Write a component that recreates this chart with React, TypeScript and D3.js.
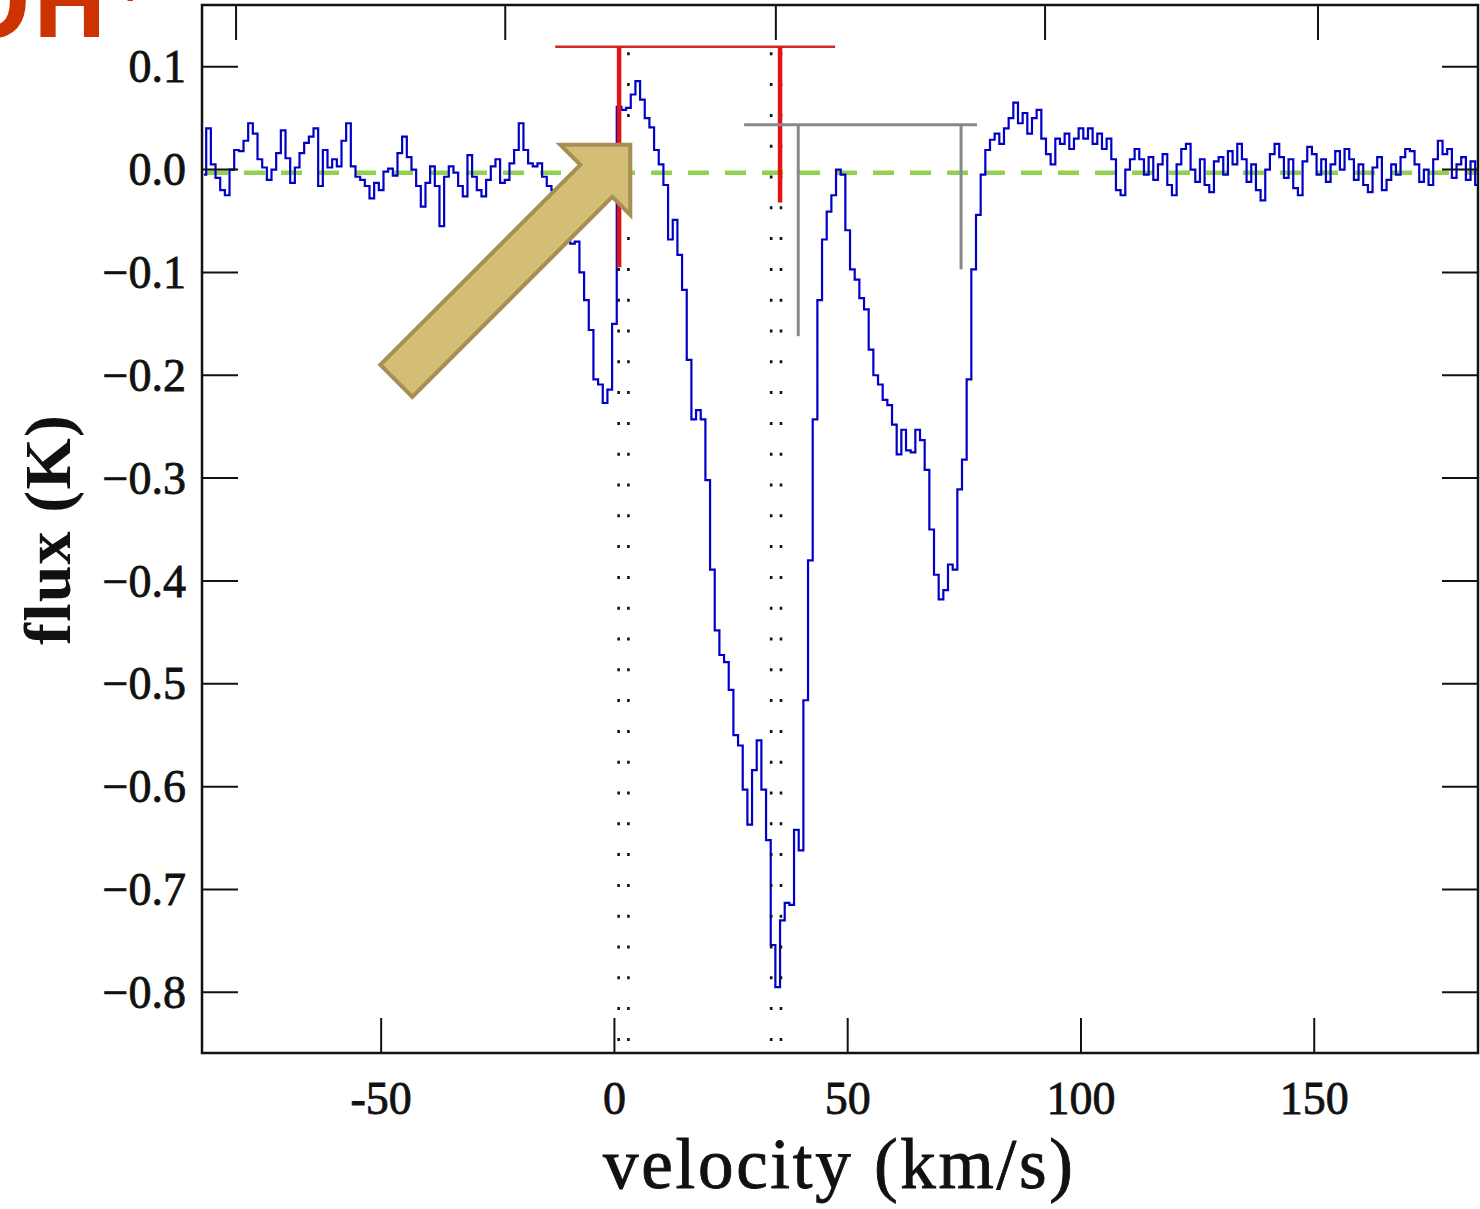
import React from 'react';
import * as d3 from 'd3';

const W = 1480;
const H = 1209;
const plot = { left: 202, right: 1478, top: 5, bottom: 1053 };

// spectrum channels (km/s), 1 km/s grid
const channelStart = -88;
const channelWidth = 1;
const flux: number[] = [
  // -88 .. -14
  -0.005, 0.04, 0.005, -0.008, -0.02, -0.025, 0.0, 0.019, 0.018, 0.028,
  0.045, 0.035, 0.01, 0.002, -0.01, 0.0, 0.016, 0.038, 0.011, -0.013,
  0.002, 0.016, 0.026, 0.032, 0.04, -0.016, 0.019, 0.002, 0.01, 0.003,
  0.028, 0.045, 0.003, -0.007, -0.01, -0.016, -0.028, -0.013, -0.02, -0.002,
  0.001, -0.006, 0.016, 0.032, 0.012, 0.0, -0.016, -0.036, -0.013, 0.003,
  -0.016, -0.055, -0.007, 0.003, -0.003, -0.016, -0.026, 0.014, -0.007, -0.02,
  -0.026, -0.01, 0.003, 0.01, -0.013, -0.01, 0.006, 0.019, 0.045, 0.019,
  0.006, 0.003, 0.006, -0.007, -0.016,
  // -13 .. 81
  -0.02, -0.035, -0.058, -0.068, -0.072, -0.07, -0.1, -0.127, -0.156, -0.204,
  -0.209, -0.227, -0.214, -0.15, 0.061, 0.058, 0.06, 0.073, 0.086, 0.068,
  0.05, 0.041, 0.019, 0.005, -0.015, -0.068, -0.049, -0.083, -0.117, -0.185,
  -0.243, -0.234, -0.243, -0.302, -0.389, -0.448, -0.472, -0.479, -0.506, -0.55,
  -0.56, -0.603, -0.637, -0.584, -0.555, -0.603, -0.652, -0.754, -0.795, -0.73,
  -0.713, -0.715, -0.642, -0.662, -0.516, -0.38, -0.243, -0.127, -0.068, -0.041,
  -0.025, 0.0, -0.005, -0.059, -0.097, -0.107, -0.125, -0.136, -0.175, -0.2,
  -0.209, -0.224, -0.229, -0.248, -0.277, -0.253, -0.273, -0.275, -0.253, -0.263,
  -0.292, -0.35, -0.394, -0.418, -0.409, -0.384, -0.389, -0.311, -0.282, -0.204,
  -0.097, -0.044, -0.005, 0.019, 0.029,
  // 82 .. 185
  0.035, 0.025, 0.04, 0.05, 0.065, 0.045, 0.055, 0.035, 0.05, 0.058,
  0.03, 0.015, 0.005, 0.03, 0.025, 0.035, 0.02, 0.03, 0.04, 0.03,
  0.04, 0.025, 0.035, 0.02, 0.03, 0.01, -0.02, -0.025, 0.0, 0.01,
  0.02, 0.01, -0.005, 0.012, -0.01, 0.005, 0.015, -0.015, -0.025, 0.005,
  0.02, 0.025, 0.0, -0.012, 0.01, -0.015, -0.022, 0.008, 0.012, -0.005,
  0.018, 0.005, 0.025, 0.01, -0.012, 0.005, -0.02, -0.03, 0.0, 0.015,
  0.025, 0.012, -0.008, 0.01, -0.018, -0.025, 0.008, 0.022, 0.015, -0.005,
  0.01, -0.012, 0.005, 0.018, 0.0, 0.02, 0.01, -0.01, 0.005, -0.015,
  -0.022, 0.002, 0.012, -0.02, -0.01, 0.005, -0.005, 0.012, 0.02, 0.018,
  0.005, -0.012, 0.0, -0.015, 0.01, 0.028, 0.015, 0.02, -0.008, 0.005,
  0.012, -0.01, 0.008, -0.015,
];

const xDomain = [-88.4, 185.1];
const yDomain = [-0.859, 0.16];
const xTicks = [-50, 0, 50, 100, 150];
const xTickLabels = ['-50', '0', '50', '100', '150'];
const yTicks = [0.1, 0.0, -0.1, -0.2, -0.3, -0.4, -0.5, -0.6, -0.7, -0.8];
const yTickLabels = ['0.1', '0.0', '\u22120.1', '\u22120.2', '\u22120.3', '\u22120.4', '\u22120.5', '\u22120.6', '\u22120.7', '\u22120.8'];
const topTicks = [-81.1, -23.4, 34.6, 92.3, 150.8];

const baselineFlux = -0.003;
const redBar = { v0: -12.7, v1: 47.3, f: 0.1195 };
const redDrops = [ { v: 1.0, f: -0.095 }, { v: 35.5, f: -0.032 } ];
const grayBar = { v0: 27.8, v1: 77.7, f: 0.0436 };
const grayDrops = [ { v: 39.4, f: -0.162 }, { v: 74.3, f: -0.097 } ];
const dottedVelocities = [0.9, 3.0, 33.6, 35.7];
const dottedTop = 0.114;
const arrowTip = { v: 3.4, f: 0.024 };

export default function App() {
  const x = d3.scaleLinear().domain(xDomain).range([plot.left, plot.right]);
  const y = d3.scaleLinear().domain(yDomain).range([plot.bottom, plot.top]);

  const pts = flux.map((f, i) => [channelStart + i * channelWidth, f] as [number, number]);
  const line = d3.line<[number, number]>()
    .x(d => x(d[0]))
    .y(d => y(d[1]))
    .curve(d3.curveStep);

  const tx = x(arrowTip.v);
  const ty = y(arrowTip.f);
  const arrowOffsets = [[0, 0], [-70, 0], [-50, 20], [-250, 220], [-218, 252], [-18, 52], [0, 70]];
  const arrowPts = arrowOffsets.map(([dx, dy]) => `${tx + dx},${ty + dy}`).join(' ');

  const serif = '"Liberation Serif", "Times New Roman", serif';

  return (
    <svg width={W} height={H} style={{ position: 'absolute', left: 0, top: 0, background: '#fff' }}>
      <defs>
        <clipPath id="pc">
          <rect x={plot.left} y={plot.top} width={plot.right - plot.left} height={plot.bottom - plot.top} />
        </clipPath>
      </defs>

      {/* OH label (partially cropped, as in the reference) */}
      <text x={-48} y={37} fontFamily='"Open Sans", sans-serif' fontWeight={700} fontSize={100} fill="#cc3300">
        OH<tspan fontSize={50} dx={8} dy={-30}>+</tspan>
      </text>

      <g clipPath="url(#pc)">
        <line x1={plot.left} x2={plot.right} y1={y(baselineFlux)} y2={y(baselineFlux)}
          stroke="#92d050" strokeWidth={4.5} strokeDasharray="21 16" strokeDashoffset={-5} />
        <path d={line(pts) || ''} fill="none" stroke="#0000c8" strokeWidth={2.2} />
        {dottedVelocities.map((v, i) => (
          <line key={'d' + i} x1={x(v)} x2={x(v)} y1={y(dottedTop)} y2={plot.bottom}
            stroke="#111" strokeWidth={2.6} strokeDasharray="3 27.8" />
        ))}
        <line x1={x(redBar.v0)} x2={x(redBar.v1)} y1={y(redBar.f)} y2={y(redBar.f)} stroke="#cf2a2a" strokeWidth={2.5} />
        {redDrops.map((d, i) => (
          <line key={'r' + i} x1={x(d.v)} x2={x(d.v)} y1={y(redBar.f)} y2={y(d.f)} stroke="#e01515" strokeWidth={4.5} />
        ))}
        <line x1={x(grayBar.v0)} x2={x(grayBar.v1)} y1={y(grayBar.f)} y2={y(grayBar.f)} stroke="#888" strokeWidth={3} />
        {grayDrops.map((d, i) => (
          <line key={'g' + i} x1={x(d.v)} x2={x(d.v)} y1={y(grayBar.f)} y2={y(d.f)} stroke="#888" strokeWidth={3} />
        ))}
      </g>

      <g stroke="#111" strokeWidth={2}>
        {yTicks.map((t, i) => (
          <g key={'yt' + i}>
            <line x1={plot.left} x2={plot.left + 36} y1={y(t)} y2={y(t)} />
            <line x1={plot.right - 36} x2={plot.right} y1={y(t)} y2={y(t)} />
          </g>
        ))}
        {xTicks.map((t, i) => (
          <line key={'xt' + i} x1={x(t)} x2={x(t)} y1={plot.bottom} y2={plot.bottom - 35} />
        ))}
        {topTicks.map((t, i) => (
          <line key={'tt' + i} x1={x(t)} x2={x(t)} y1={plot.top} y2={plot.top + 35} />
        ))}
      </g>

      <rect x={plot.left} y={plot.top} width={plot.right - plot.left} height={plot.bottom - plot.top}
        fill="none" stroke="#111" strokeWidth={2.5} />

      <g fontFamily={serif} fontSize={46} fill="#111" stroke="#111" strokeWidth={0.8}>
        {yTicks.map((t, i) => (
          <text key={'yl' + i} x={186} y={y(t)} dy="0.34em" textAnchor="end">{yTickLabels[i]}</text>
        ))}
        {xTicks.map((t, i) => (
          <text key={'xl' + i} x={x(t)} y={1114} textAnchor="middle">{xTickLabels[i]}</text>
        ))}
      </g>

      <text x={838} y={1188} textAnchor="middle" fontFamily={serif} fontSize={71} fill="#111"
        stroke="#111" strokeWidth={0.9} textLength={470} lengthAdjust="spacing">velocity (km/s)</text>
      <text transform="translate(70,530) rotate(-90)" textAnchor="middle" fontFamily={serif} fontWeight={700}
        fontSize={66} fill="#111" textLength={230} lengthAdjust="spacing">flux (K)</text>

      <polygon points={arrowPts} fill="#d4bd74" stroke="#a68e55" strokeWidth={4} strokeLinejoin="miter" />
    </svg>
  );
}
